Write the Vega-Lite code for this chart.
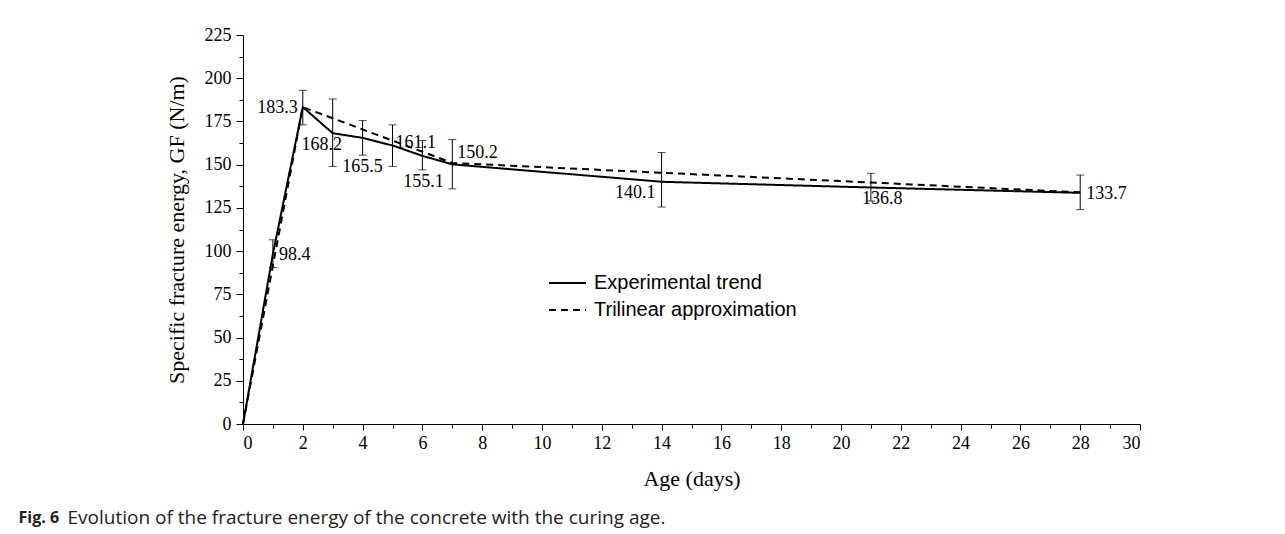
{
  "$schema": "https://vega.github.io/schema/vega-lite/v6.json",
  "width": 897,
  "height": 389,
  "autosize": {"type": "none"},
  "padding": {"left": 243, "top": 35, "right": 145, "bottom": 110},
  "background": "white",
  "datasets": {
    "lines": [
      {"series": "Experimental trend", "age": 0, "gf": 0},
      {"series": "Experimental trend", "age": 1, "gf": 98.4},
      {"series": "Experimental trend", "age": 2, "gf": 183.3},
      {"series": "Experimental trend", "age": 3, "gf": 168.2},
      {"series": "Experimental trend", "age": 4, "gf": 165.5},
      {"series": "Experimental trend", "age": 5, "gf": 161.1},
      {"series": "Experimental trend", "age": 6, "gf": 155.1},
      {"series": "Experimental trend", "age": 7, "gf": 150.2},
      {"series": "Experimental trend", "age": 14, "gf": 140.1},
      {"series": "Experimental trend", "age": 21, "gf": 136.8},
      {"series": "Experimental trend", "age": 28, "gf": 133.7},
      {"series": "Trilinear approximation", "age": 0, "gf": 0},
      {"series": "Trilinear approximation", "age": 2, "gf": 183.3},
      {"series": "Trilinear approximation", "age": 7, "gf": 151},
      {"series": "Trilinear approximation", "age": 28, "gf": 134}
    ],
    "points": [
      {"age": 1, "gf": 98.4, "lo": 90.5, "hi": 106.5},
      {"age": 2, "gf": 183.3, "lo": 173, "hi": 193},
      {"age": 3, "gf": 168.2, "lo": 149, "hi": 188},
      {"age": 4, "gf": 165.5, "lo": 155.5, "hi": 175.5},
      {"age": 5, "gf": 161.1, "lo": 149, "hi": 173},
      {"age": 6, "gf": 155.1, "lo": 147, "hi": 164},
      {"age": 7, "gf": 150.2, "lo": 136, "hi": 164.5},
      {"age": 14, "gf": 140.1, "lo": 125.5, "hi": 157},
      {"age": 21, "gf": 136.8, "lo": 129, "hi": 145},
      {"age": 28, "gf": 133.7, "lo": 124, "hi": 144}
    ]
  },
  "resolve": {"axis": {"x": "independent", "y": "independent"}},
  "layer": [
    {
      "data": {"name": "lines"},
      "mark": {"type": "line", "strokeWidth": 2, "color": "black"},
      "encoding": {
        "x": {
          "field": "age", "type": "quantitative",
          "scale": {"domain": [0, 30], "nice": false, "zero": false},
          "axis": {
            "orient": "bottom",
            "title": "Age (days)",
            "values": [0, 2, 4, 6, 8, 10, 12, 14, 16, 18, 20, 22, 24, 26, 28, 30],
            "tickSize": 6, "labelPadding": 4, "titlePadding": 16
          }
        },
        "y": {
          "field": "gf", "type": "quantitative",
          "scale": {"domain": [0, 225], "nice": false},
          "axis": {
            "orient": "left",
            "title": "Specific fracture energy, GF (N/m)",
            "values": [0, 25, 50, 75, 100, 125, 150, 175, 200, 225],
            "tickSize": 7, "labelPadding": 5, "titlePadding": 16
          }
        },
        "strokeDash": {
          "field": "series", "type": "nominal",
          "scale": {"domain": ["Experimental trend", "Trilinear approximation"], "range": [[1, 0], [7, 5]]},
          "legend": {"title": null}
        }
      }
    },
    {
      "data": {"name": "points"},
      "mark": {"type": "rule", "color": "black", "strokeWidth": 1},
      "encoding": {
        "x": {
          "field": "age", "type": "quantitative",
          "axis": {
            "orient": "bottom",
            "labels": false, "domain": false, "grid": false,
            "values": [1, 3, 5, 7, 9, 11, 13, 15, 17, 19, 21, 23, 25, 27, 29],
            "tickSize": 4,
            "title": "Evolution of the fracture energy of the concrete with the curing age.",
            "titleFont": "Open Sans",
            "titleFontSize": 19,
            "titleFontWeight": "normal",
            "titleColor": "#222222",
            "titleAlign": "left",
            "titleBaseline": "middle",
            "titleAngle": 0,
            "titleX": -176,
            "titleY": 93
          }
        },
        "y": {
          "field": "lo", "type": "quantitative",
          "axis": {
            "orient": "left",
            "labels": false, "domain": false, "grid": false,
            "values": [12.5, 37.5, 62.5, 87.5, 112.5, 137.5, 162.5, 187.5, 212.5],
            "tickSize": 4,
            "title": "Fig. 6",
            "titleFont": "Open Sans",
            "titleFontSize": 16,
            "titleFontWeight": "bold",
            "titleColor": "#222222",
            "titleAlign": "left",
            "titleBaseline": "middle",
            "titleAngle": 0,
            "titleX": -225,
            "titleY": 482
          }
        },
        "y2": {"field": "hi"}
      }
    },
    {
      "data": {"name": "points"},
      "mark": {"type": "tick", "orient": "horizontal", "color": "black", "thickness": 1, "size": 8},
      "encoding": {
        "x": {"field": "age", "type": "quantitative", "axis": null},
        "y": {"field": "lo", "type": "quantitative", "axis": null}
      }
    },
    {
      "data": {"name": "points"},
      "mark": {"type": "tick", "orient": "horizontal", "color": "black", "thickness": 1, "size": 8},
      "encoding": {
        "x": {"field": "age", "type": "quantitative", "axis": null},
        "y": {"field": "hi", "type": "quantitative", "axis": null}
      }
    },
    {
      "data": {"name": "points"},
      "transform": [{"filter": "datum.age == 1 || datum.age == 28"}],
      "mark": {"type": "text", "align": "left", "baseline": "middle", "dx": 6, "dy": 1, "font": "Liberation Serif", "fontSize": 18, "color": "black"},
      "encoding": {
        "x": {"field": "age", "type": "quantitative", "axis": null},
        "y": {"field": "gf", "type": "quantitative", "axis": null},
        "text": {"field": "gf", "type": "quantitative", "format": ".1f"}
      }
    },
    {
      "data": {"name": "points"},
      "transform": [{"filter": "datum.age == 2"}],
      "mark": {"type": "text", "align": "right", "baseline": "middle", "dx": -5, "dy": 1, "font": "Liberation Serif", "fontSize": 18, "color": "black"},
      "encoding": {
        "x": {"field": "age", "type": "quantitative", "axis": null},
        "y": {"field": "gf", "type": "quantitative", "axis": null},
        "text": {"field": "gf", "type": "quantitative", "format": ".1f"}
      }
    },
    {
      "data": {"name": "points"},
      "transform": [{"filter": "datum.age == 3"}],
      "mark": {"type": "text", "align": "center", "baseline": "middle", "dx": -11, "dy": 12, "font": "Liberation Serif", "fontSize": 18, "color": "black"},
      "encoding": {
        "x": {"field": "age", "type": "quantitative", "axis": null},
        "y": {"field": "gf", "type": "quantitative", "axis": null},
        "text": {"field": "gf", "type": "quantitative", "format": ".1f"}
      }
    },
    {
      "data": {"name": "points"},
      "transform": [{"filter": "datum.age == 4"}],
      "mark": {"type": "text", "align": "center", "baseline": "middle", "dx": 0, "dy": 29, "font": "Liberation Serif", "fontSize": 18, "color": "black"},
      "encoding": {
        "x": {"field": "age", "type": "quantitative", "axis": null},
        "y": {"field": "gf", "type": "quantitative", "axis": null},
        "text": {"field": "gf", "type": "quantitative", "format": ".1f"}
      }
    },
    {
      "data": {"name": "points"},
      "transform": [{"filter": "datum.age == 5"}],
      "mark": {"type": "text", "align": "left", "baseline": "middle", "dx": 3, "dy": -2, "font": "Liberation Serif", "fontSize": 18, "color": "black"},
      "encoding": {
        "x": {"field": "age", "type": "quantitative", "axis": null},
        "y": {"field": "gf", "type": "quantitative", "axis": null},
        "text": {"field": "gf", "type": "quantitative", "format": ".1f"}
      }
    },
    {
      "data": {"name": "points"},
      "transform": [{"filter": "datum.age == 6"}],
      "mark": {"type": "text", "align": "center", "baseline": "middle", "dx": 1, "dy": 26, "font": "Liberation Serif", "fontSize": 18, "color": "black"},
      "encoding": {
        "x": {"field": "age", "type": "quantitative", "axis": null},
        "y": {"field": "gf", "type": "quantitative", "axis": null},
        "text": {"field": "gf", "type": "quantitative", "format": ".1f"}
      }
    },
    {
      "data": {"name": "points"},
      "transform": [{"filter": "datum.age == 7"}],
      "mark": {"type": "text", "align": "left", "baseline": "middle", "dx": 5, "dy": -11, "font": "Liberation Serif", "fontSize": 18, "color": "black"},
      "encoding": {
        "x": {"field": "age", "type": "quantitative", "axis": null},
        "y": {"field": "gf", "type": "quantitative", "axis": null},
        "text": {"field": "gf", "type": "quantitative", "format": ".1f"}
      }
    },
    {
      "data": {"name": "points"},
      "transform": [{"filter": "datum.age == 14"}],
      "mark": {"type": "text", "align": "right", "baseline": "middle", "dx": -6, "dy": 11, "font": "Liberation Serif", "fontSize": 18, "color": "black"},
      "encoding": {
        "x": {"field": "age", "type": "quantitative", "axis": null},
        "y": {"field": "gf", "type": "quantitative", "axis": null},
        "text": {"field": "gf", "type": "quantitative", "format": ".1f"}
      }
    },
    {
      "data": {"name": "points"},
      "transform": [{"filter": "datum.age == 21"}],
      "mark": {"type": "text", "align": "left", "baseline": "middle", "dx": -9, "dy": 12, "font": "Liberation Serif", "fontSize": 18, "color": "black"},
      "encoding": {
        "x": {"field": "age", "type": "quantitative", "axis": null},
        "y": {"field": "gf", "type": "quantitative", "axis": null},
        "text": {"field": "gf", "type": "quantitative", "format": ".1f"}
      }
    }
  ],
  "config": {
    "view": {"stroke": null},
    "axis": {
      "grid": false,
      "domainColor": "black",
      "domainWidth": 1,
      "tickColor": "black",
      "tickWidth": 1,
      "labelColor": "black",
      "labelFont": "Liberation Serif",
      "labelFontSize": 18,
      "titleColor": "black",
      "titleFont": "Liberation Serif",
      "titleFontSize": 22,
      "titleFontWeight": "normal"
    },
    "legend": {
      "orient": "none",
      "legendX": 305,
      "legendY": 236,
      "padding": 0,
      "symbolType": "stroke",
      "symbolSize": 1369,
      "symbolStrokeWidth": 2,
      "symbolStrokeColor": "black",
      "labelFont": "Liberation Sans",
      "labelFontSize": 20,
      "labelColor": "black",
      "labelOffset": 7,
      "labelLimit": 0,
      "clipHeight": 24,
      "rowPadding": 3
    }
  }
}
